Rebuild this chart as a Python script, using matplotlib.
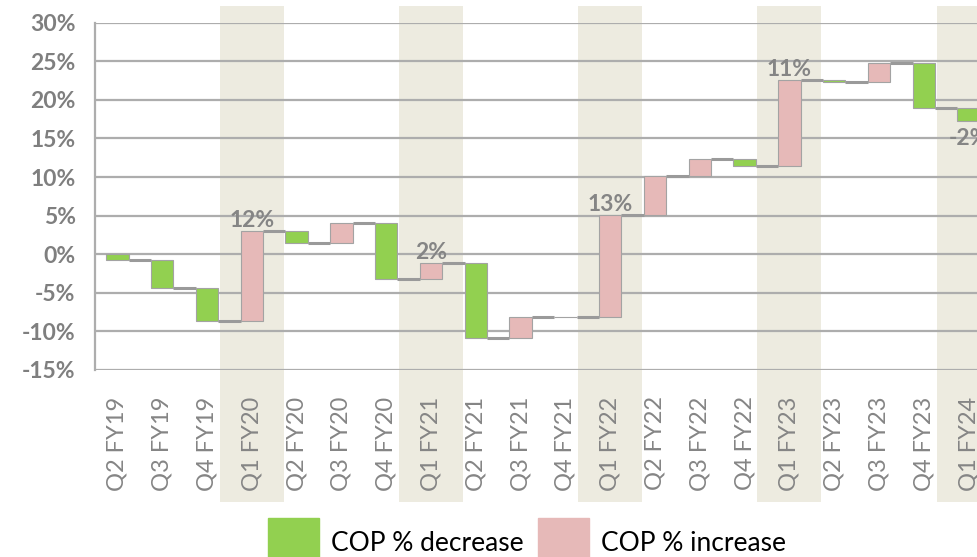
import matplotlib
matplotlib.use("Agg")
import matplotlib.pyplot as plt
import matplotlib.patches as pts
import numpy as np

categories = ["Q2 FY19", "Q3 FY19", "Q4 FY19", "Q1 FY20", "Q2 FY20", "Q3 FY20", "Q4 FY20",
              "Q1 FY21", "Q2 FY21", "Q3 FY21", "Q4 FY21", "Q1 FY22", "Q2 FY22", "Q3 FY22",
              "Q4 FY22", "Q1 FY23", "Q2 FY23", "Q3 FY23", "Q4 FY23", "Q1 FY24"]
# change of COP from one quarter to the next, in % points
changes = [-0.7, -3.7, -4.2, 11.6, -1.6, 2.6, -7.2, 2.0, -9.7, 2.8,
           0.0, 13.2, 5.0, 2.2, -0.9, 11.2, -0.3, 2.5, -5.9, -1.7]
y_ticks = [-15, -10, -5, 0, 5, 10, 15, 20, 25, 30]
legend_labels = ["COP % decrease", "COP % increase"]

GREEN = "#92D050"
PINK = "#E6B9B8"
BAND = "#EDEBE0"
GRID = "#ADADAD"
GREY_TXT = "#858585"

plt.rcParams["font.family"] = ["Lato", "DejaVu Sans"]

fig = plt.figure(figsize=(9.78, 5.57), dpi=100)
# the plot runs a little past the right edge of the picture, as in the original
ax = fig.add_axes([95 / 978, 1 - 370 / 557, 896 / 978, 347.3 / 557])

x = np.arange(len(categories))
changes = np.array(changes)
ends = np.cumsum(changes)
starts = ends - changes
colors = [GREEN if c < 0 else PINK for c in changes]
is_q1 = np.array([c.startswith("Q1") for c in categories])

# shaded Q1 columns, they go down behind the tick labels
for xi in x[is_q1]:
    ax.axvspan(xi - 0.715, xi + 0.715, ymin=-0.38, ymax=1.048, color=BAND,
               lw=0, zorder=0, clip_on=False)

ax.bar(x, changes, bottom=starts, width=0.5, color=colors,
       edgecolor="#A3A3A3", linewidth=0.8, zorder=3)

# connectors between the bars
for i in range(len(x) - 1):
    ax.plot([x[i] + 0.25, x[i + 1] - 0.25], [ends[i], ends[i]], color="#9A9A9A",
            lw=2.2, zorder=2, solid_capstyle="butt")

# value labels on the Q1 bars
for xi in x[is_q1]:
    d = changes[xi]
    if d >= 0:
        ax.annotate(f"{d:.0f}%", (xi, ends[xi]), xytext=(0, 3), textcoords="offset points",
                    ha="center", va="baseline", fontsize=16.5, fontweight="bold",
                    color=GREY_TXT, zorder=4)
    else:
        ax.annotate(f"{d:.0f}%", (xi, ends[xi]), xytext=(0, -5), textcoords="offset points",
                    ha="center", va="top", fontsize=16.5, fontweight="bold",
                    color=GREY_TXT, zorder=4)

ax.set_xlim(-0.5, len(x) - 0.5)
ax.set_ylim(-15, 30)
ax.set_yticks(y_ticks)
ax.set_yticklabels([f"{v}%" for v in y_ticks])
ax.set_xticks(x)
ax.set_xticklabels(categories, rotation=90)
ax.tick_params(length=0)
ax.tick_params(axis="y", pad=14, labelsize=16.5, labelcolor="#7F7F7F")
ax.tick_params(axis="x", pad=19, labelsize=17, labelcolor=GREY_TXT)
for lbl in ax.get_yticklabels():
    lbl.set_fontweight("bold")

ax.yaxis.grid(True, color=GRID, lw=1.6)
for side in ["top", "right", "bottom"]:
    ax.spines[side].set_visible(False)
ax.spines["left"].set_color(GRID)
ax.spines["left"].set_linewidth(1.6)
ax.patch.set_alpha(0)

handles = [pts.Patch(color=GREEN), pts.Patch(color=PINK)]
fig.legend(handles, legend_labels, loc="upper left", bbox_to_anchor=(268 / 978, 1 - 518 / 557),
           ncol=2, frameon=False, fontsize=19, handlelength=1.93, handleheight=2.5,
           handletextpad=0.45, columnspacing=0.57, borderpad=0, borderaxespad=0)

fig.savefig("out.png", dpi=100)
